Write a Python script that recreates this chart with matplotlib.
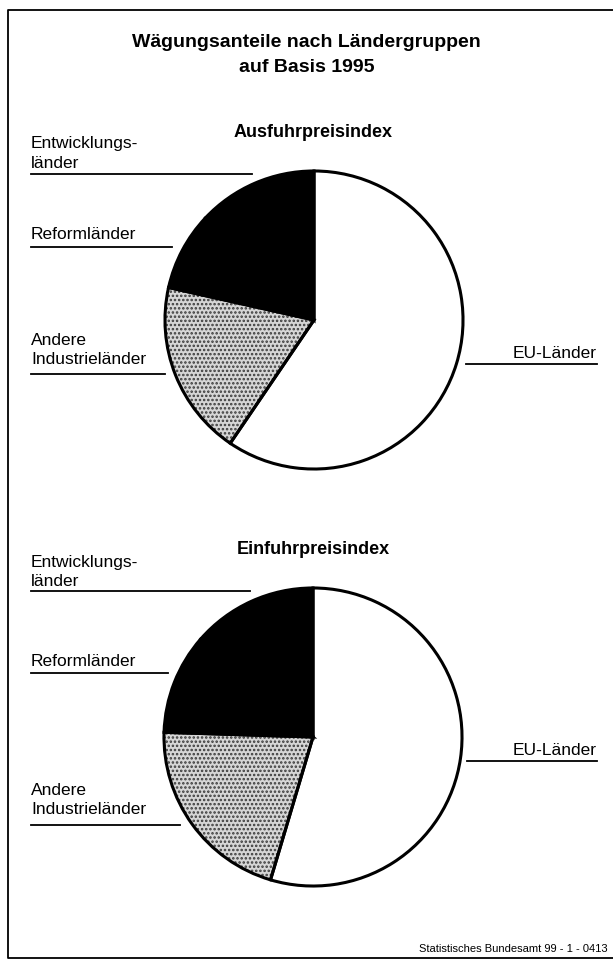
import matplotlib.pyplot as plt
from matplotlib.lines import Line2D

plt.rcParams['font.family'] = ['Liberation Sans', 'DejaVu Sans']
plt.rcParams['hatch.linewidth'] = 1.2

# Anteile in %, im Uhrzeigersinn ab 12 Uhr
gruppen = ['EU-Länder', 'Andere Industrieländer', 'Reformländer', 'Entwicklungsländer']
ausfuhr = [59.5, 19.0, 8.5, 13.0]
einfuhr = [54.6, 20.9, 10.9, 13.6]
fuellung = ['white', '#d6d6d6', 'black', 'black']
muster = [None, '....', None, None]

W, H = 613, 963
fig = plt.figure(figsize=(W / 100, H / 100), dpi=100)


def fx(x):
    return x / W


def fy(y):
    return 1 - y / H


def linie(x0, x1, y, lw=1.3):
    fig.add_artist(Line2D([fx(x0), fx(x1)], [fy(y), fy(y)], color='black', lw=lw))


def torte(werte, cx, cy, r):
    ax = fig.add_axes([fx(cx - r), fy(cy + r), 2 * r / W, 2 * r / H])
    # Flaechen
    wedges, _ = ax.pie(werte, colors=fuellung, startangle=90, counterclock=False,
                       wedgeprops=dict(linewidth=0))
    for w, m in zip(wedges, muster):
        if m:
            w.set_hatch(m)
            w.set_edgecolor('#3a3a3a')
            w.set_linewidth(0)
    # Umrisse
    ax.pie(werte, colors=['none'] * len(werte), startangle=90, counterclock=False,
           wedgeprops=dict(edgecolor='black', linewidth=2.2))
    ax.set_xlim(-1.02, 1.02)
    ax.set_ylim(-1.02, 1.02)
    ax.set_aspect('equal')
    ax.axis('off')


# Rahmen
fig.add_artist(Line2D([fx(W), fx(8), fx(8), fx(W)], [fy(10), fy(10), fy(958), fy(958)],
                      color='black', lw=1.3))

fig.text(0.5, fy(47), 'Wägungsanteile nach Ländergruppen', ha='center', va='baseline',
         fontsize=14, fontweight='bold')
fig.text(0.5, fy(72), 'auf Basis 1995', ha='center', va='baseline',
         fontsize=14, fontweight='bold')

fs = 12.5
fs_sub = 13

# oberes Diagramm
fig.text(fx(313), fy(137), 'Ausfuhrpreisindex', ha='center', va='baseline',
         fontsize=fs_sub, fontweight='bold')
torte(ausfuhr, 314, 320, 152)
fig.text(fx(31), fy(148), 'Entwicklungs-', va='baseline', fontsize=fs)
fig.text(fx(31), fy(168), 'länder', va='baseline', fontsize=fs)
linie(31, 252, 174)
fig.text(fx(31), fy(239), 'Reformländer', va='baseline', fontsize=fs)
linie(31, 172, 247)
fig.text(fx(31), fy(345), 'Andere', va='baseline', fontsize=fs)
fig.text(fx(31), fy(364), 'Industrieländer', va='baseline', fontsize=fs)
linie(31, 165, 374)
fig.text(fx(597), fy(358), 'EU-Länder', ha='right', va='baseline', fontsize=fs)
linie(466, 597, 364)

# unteres Diagramm
fig.text(fx(313), fy(554), 'Einfuhrpreisindex', ha='center', va='baseline',
         fontsize=fs_sub, fontweight='bold')
torte(einfuhr, 313, 737, 152)
fig.text(fx(31), fy(567), 'Entwicklungs-', va='baseline', fontsize=fs)
fig.text(fx(31), fy(586), 'länder', va='baseline', fontsize=fs)
linie(31, 250, 591)
fig.text(fx(31), fy(666), 'Reformländer', va='baseline', fontsize=fs)
linie(31, 168, 673)
fig.text(fx(31), fy(795), 'Andere', va='baseline', fontsize=fs)
fig.text(fx(31), fy(814), 'Industrieländer', va='baseline', fontsize=fs)
linie(31, 180, 825)
fig.text(fx(597), fy(755), 'EU-Länder', ha='right', va='baseline', fontsize=fs)
linie(467, 597, 761)

fig.text(fx(608), fy(952), 'Statistisches Bundesamt 99 - 1 - 0413', ha='right',
         va='baseline', fontsize=8)

fig.savefig('out.png', dpi=100)
